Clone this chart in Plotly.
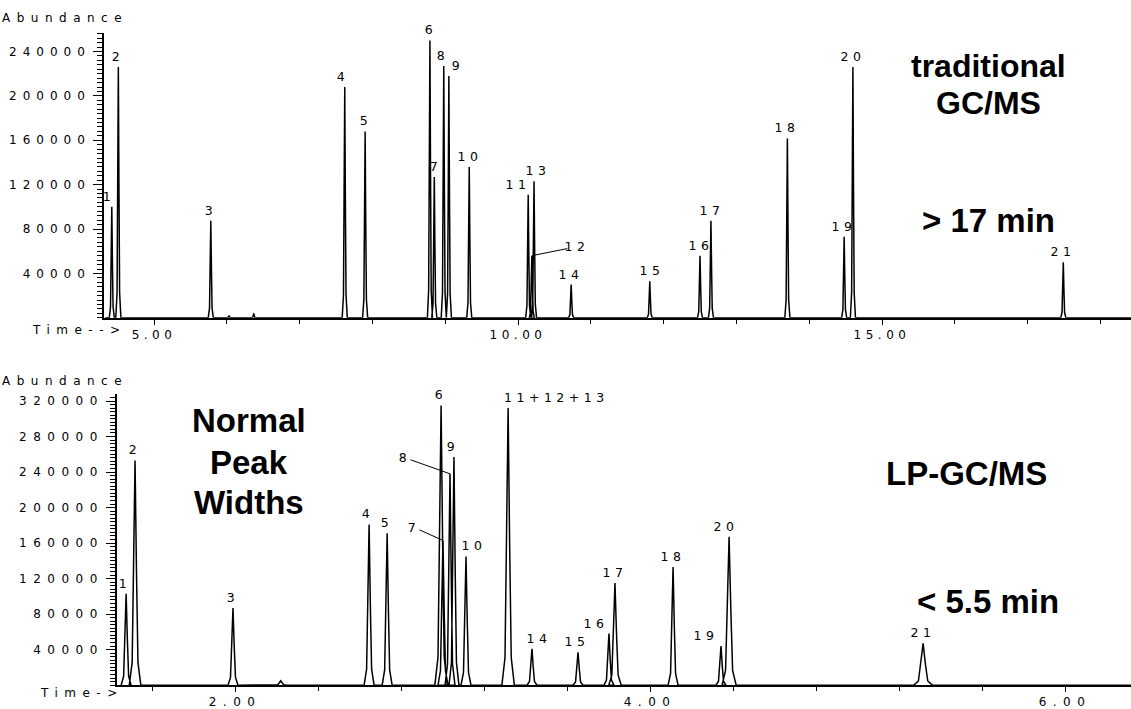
import plotly.graph_objects as go

# ---------------- data ----------------
# traditional GC/MS (top panel)
top_labels = ["1", "2", "3", "4", "5", "6", "7", "8", "9", "10", "11", "12", "13",
              "14", "15", "16", "17", "18", "19", "20", "21"]
top_times = [4.42, 4.51, 5.78, 7.62, 7.90, 8.79, 8.85, 8.98, 9.05, 9.33, 10.14, 10.19,
             10.22, 10.73, 11.81, 12.50, 12.65, 13.70, 14.48, 14.60, 17.49]
top_heights = [100000, 226000, 87500, 208000, 168000, 250000, 127000, 227000, 218000,
               136000, 111000, 56000, 123000, 30000, 33000, 56000, 87500, 161600,
               73000, 226000, 50000]
top_widths = [0.035] * 21
top_minor_times = [6.03, 6.37]
top_minor_heights = [2000, 4000]

# LP-GC/MS (bottom panel)
bot_labels = ["1", "2", "3", "4", "5", "6", "7", "8", "9", "10", "11+12+13",
              "14", "15", "16", "17", "18", "19", "20", "21"]
bot_times = [1.475, 1.518, 1.99, 2.646, 2.733, 2.993, 3.002, 3.036, 3.055, 3.113,
             3.316, 3.431, 3.653, 3.802, 3.831, 4.111, 4.342, 4.381, 5.316]
bot_heights = [103000, 253000, 87000, 181000, 171000, 315000, 163000, 238000, 257000,
               145000, 312000, 41000, 37000, 58000, 115000, 133000, 44000, 167000, 47000]
bot_widths = [0.024, 0.028, 0.024, 0.024, 0.024, 0.03, 0.024, 0.024, 0.024, 0.024, 0.03,
              0.024, 0.024, 0.024, 0.03, 0.024, 0.024, 0.034, 0.045]
bot_minor_times = [2.22]
bot_minor_heights = [5000]

top_xticks = [5, 10, 15]
top_xticktext = ["5.00", "10.00", "15.00"]
bot_xticks = [2, 4, 6]
bot_xticktext = ["2.00", "4.00", "6.00"]
top_yticks = [40000, 80000, 120000, 160000, 200000, 240000]
bot_yticks = [40000, 80000, 120000, 160000, 200000, 240000, 280000, 320000]

# peak drawing profile (style: relative offset in widths, relative height)
PROFILE = [(-1.0, 0.0), (-0.5, 0.1), (-0.25, 0.5), (0.0, 1.0), (0.25, 0.5), (0.5, 0.1), (1.0, 0.0)]

def trace_xy(times, heights, widths, start, end):
    items = sorted(zip(times, heights, widths))
    xs, ys = [start], [0]
    for t, h, w in items:
        for dx, fy in PROFILE:
            xs.append(t + dx * w)
            ys.append(h * fy)
    xs.append(end)
    ys.append(0)
    return xs, ys

fig = go.Figure()

tx, ty = trace_xy(top_times + top_minor_times, top_heights + top_minor_heights,
                  top_widths + [0.03] * len(top_minor_times), 4.33, 18.42)
fig.add_trace(go.Scatter(x=tx, y=ty, mode="lines", line=dict(color="black", width=1.5),
                         xaxis="x", yaxis="y", showlegend=False, hoverinfo="skip"))

bx, by = trace_xy(bot_times + bot_minor_times, bot_heights + bot_minor_heights,
                  bot_widths + [0.03] * len(bot_minor_times), 1.45, 6.32)
fig.add_trace(go.Scatter(x=bx, y=by, mode="lines", line=dict(color="black", width=1.5),
                         xaxis="x2", yaxis="y2", showlegend=False, hoverinfo="skip"))

W, H = 1131, 709
small_font = dict(family="DejaVu Sans", size=12, color="black")
label_font = dict(family="DejaVu Sans", size=12.5, color="black")
big_font = dict(family="Liberation Sans", size=33, color="black")
pair_font = dict(family="Liberation Sans", size=32, color="black")

def px(x):
    return x / W

def py(y):
    return 1 - y / H

axis_common = dict(showgrid=False, zeroline=False, showline=True, linecolor="black",
                   linewidth=1.5, ticks="outside", tickcolor="black", tickwidth=1.2,
                   tickfont=small_font)

layout = dict(
    width=W, height=H, margin=dict(l=0, r=0, t=0, b=0),
    paper_bgcolor="white", plot_bgcolor="white",
    xaxis=dict(axis_common, domain=[px(104), 1.0], range=[4.313, 18.42], anchor="y",
               tickvals=top_xticks, ticktext=top_xticktext, ticklen=5,
               minor=dict(ticks="outside", dtick=1, tick0=0, ticklen=4, tickcolor="black")),
    yaxis=dict(axis_common, domain=[py(321), py(33)], range=[0, 256960], anchor="x",
               tickvals=top_yticks, ticktext=[str(v) for v in top_yticks], ticklen=9,
               minor=dict(ticks="outside", dtick=4000, tick0=0, ticklen=5, tickcolor="black")),
    xaxis2=dict(axis_common, domain=[px(117), 1.0], range=[1.431, 6.318], anchor="y2",
                tickvals=bot_xticks, ticktext=bot_xticktext, ticklen=5,
                minor=dict(ticks="outside", dtick=0.4, tick0=0, ticklen=4, tickcolor="black")),
    yaxis2=dict(axis_common, domain=[py(692), py(398)], range=[0, 327800], anchor="x2",
                tickvals=bot_yticks, ticktext=[str(v) for v in bot_yticks], ticklen=9,
                minor=dict(ticks="outside", dtick=4000, tick0=0, ticklen=5, tickcolor="black")),
)
fig.update_layout(layout)

annotations = []
top_dx = [-3, 0, 0, -2, 1, 1, 2, -1, 9, 1, -10, None, 4, 0, 2, 1, 1, 0, 0, 0, 0]
for lab, t, h, dx in zip(top_labels, top_times, top_heights, top_dx):
    if dx is None:
        annotations.append(dict(x=t, y=h, xref="x", yref="y", text=lab, font=label_font,
                                showarrow=True, arrowhead=0, arrowwidth=1, arrowcolor="black",
                                ax=45, ay=-9, standoff=0))
    else:
        annotations.append(dict(x=t, y=h, xref="x", yref="y", text=lab, font=label_font,
                                showarrow=False, xanchor="center", yanchor="bottom",
                                xshift=dx, yshift=1))

bot_dx = [-1, 0, 0, -1, 0, 0, None, None, -1, 8, 48, 7, -1, -13, 0, 0, -15, -3, 0]
bot_arrows = {"7": (-29, -13), "8": (-45, -16)}
for lab, t, h, dx in zip(bot_labels, bot_times, bot_heights, bot_dx):
    if dx is None:
        ax, ay = bot_arrows[lab]
        annotations.append(dict(x=t, y=h, xref="x2", yref="y2", text=lab, font=label_font,
                                showarrow=True, arrowhead=0, arrowwidth=1, arrowcolor="black",
                                ax=ax, ay=ay, standoff=0))
    else:
        annotations.append(dict(x=t, y=h, xref="x2", yref="y2", text=lab, font=label_font,
                                showarrow=False, xanchor="center", yanchor="bottom",
                                xshift=dx, yshift=1))

def paper_text(text, x, y, font, xanchor="center", align="center"):
    annotations.append(dict(x=px(x), y=py(y), xref="paper", yref="paper", text=text,
                            font=font, showarrow=False, xanchor=xanchor, yanchor="middle",
                            align=align))

paper_text("Abundance", 0, 18, small_font, xanchor="left", align="left")
paper_text("Abundance", 0, 385, small_font, xanchor="left", align="left")
paper_text("Time-->", 30, 333, small_font, xanchor="left", align="left")
paper_text("Time->", 38, 700, small_font, xanchor="left", align="left")

paper_text("<b>traditional</b>", 988, 67, pair_font)
paper_text("<b>GC/MS</b>", 989, 104, pair_font)
paper_text("<b>&gt; 17 min</b>", 988, 223, big_font)
paper_text("<b>Normal</b>", 249, 425, big_font)
paper_text("<b>Peak</b>", 249, 467, big_font)
paper_text("<b>Widths</b>", 249, 508, big_font)
paper_text("<b>LP-GC/MS</b>", 966, 478, big_font)
paper_text("<b>&lt; 5.5 min</b>", 988, 608, big_font)

fig.update_layout(annotations=annotations)

post = """
document.body.style.margin = '0';
document.querySelectorAll('text').forEach(function(t){
  var fs = parseFloat(t.style.fontSize);
  if (fs && fs < 20) {
    if (t.closest('.ytick')) { t.style.letterSpacing = '6px'; }
    else if (t.closest('.xtick')) { t.style.letterSpacing = '4.5px'; }
    else if (fs > 12.2) { t.style.letterSpacing = '4.5px'; }
    else { t.style.letterSpacing = '6.5px'; }
  }
});
"""
fig.write_html("out.html", post_script=post, config={"displayModeBar": False})
